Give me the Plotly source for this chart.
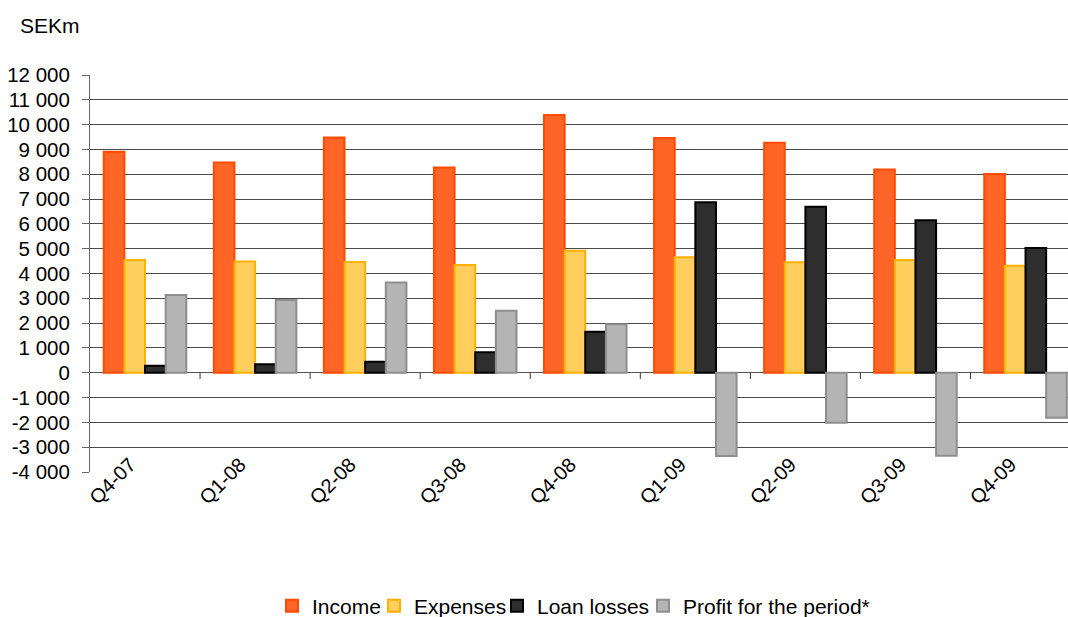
import plotly.graph_objects as go

categories = ["Q4-07", "Q1-08", "Q2-08", "Q3-08", "Q4-08", "Q1-09", "Q2-09", "Q3-09", "Q4-09"]
income = [8910, 8470, 9480, 8270, 10390, 9460, 9270, 8190, 8010]
expenses = [4540, 4480, 4460, 4340, 4920, 4650, 4450, 4540, 4310]
loan_losses = [280, 340, 440, 830, 1650, 6870, 6690, 6150, 5030]
profit = [3130, 2930, 3640, 2500, 1950, -3360, -2020, -3350, -1810]

y_ticks = list(range(-4000, 12001, 1000))
y_tick_labels = [("-" if v < 0 else "") + (f"{abs(v):,}".replace(",", " ")) for v in y_ticks]

series = [
    ("Income", income, "#FF6526", "#FF4A00", 57),
    ("Expenses", expenses, "#FFCE5C", "#FFB000", 78),
    ("Loan losses", loan_losses, "#2E2E2E", "#000000", 101),
    ("Profit for the period*", profit, "#B4B4B4", "#8E8E8E", 195),
]

FONT = "Liberation Sans, Arial, sans-serif"

fig = go.Figure()
for name, vals, fill, edge, lw in series:
    fig.add_trace(go.Bar(
        x=categories, y=vals, name=name, legendwidth=lw,
        marker=dict(color=fill, line=dict(color=edge, width=2)),
    ))

# category separator ticks on the zero line
shapes = []
for i in range(len(categories) - 1):
    shapes.append(dict(type="line", xref="x", yref="y", x0=i + 0.5, x1=i + 0.5,
                       y0=0, y1=-250, line=dict(color="#333333", width=1)))

fig.update_layout(
    width=1068, height=617,
    margin=dict(l=90, r=0, t=75, b=145, autoexpand=False),
    paper_bgcolor="white", plot_bgcolor="white",
    barmode="group", bargap=0.25, bargroupgap=0.0,
    font=dict(family=FONT, color="black", size=20),
    shapes=shapes,
    legend=dict(orientation="h", x=(272 - 90) / 978, xanchor="left", y=-0.338, yanchor="middle",
                font=dict(size=21, family=FONT), traceorder="normal",
                itemwidth=30, entrywidthmode="pixels", bgcolor="rgba(0,0,0,0)"),
    annotations=[dict(text="SEKm", xref="paper", yref="paper", x=-0.074, y=1.125,
                      xanchor="left", yanchor="middle", showarrow=False,
                      font=dict(size=21, family=FONT, color="black"))],
)

fig.update_xaxes(
    type="category", range=[-0.5, 8.386], tickangle=-45,
    showgrid=False, showline=False, ticks="", zeroline=False,
    ticklabelshift=-15, ticklabelstandoff=-24,
    tickfont=dict(size=20, family=FONT), automargin=False,
)
fig.update_yaxes(
    range=[-4000, 12000], tickvals=y_ticks, ticktext=y_tick_labels,
    showgrid=True, gridcolor="#4a4a4a", gridwidth=1,
    zeroline=True, zerolinecolor="#555555", zerolinewidth=1,
    showline=True, linecolor="#666666", linewidth=1,
    ticks="outside", ticklen=7, tickcolor="#666666", ticklabelstandoff=8,
    tickfont=dict(size=20.5, family=FONT), automargin=False,
)

fig.write_html("out.html", config={"displayModeBar": False},
               post_script="document.body.style.margin='0';document.body.style.overflow='hidden';")
